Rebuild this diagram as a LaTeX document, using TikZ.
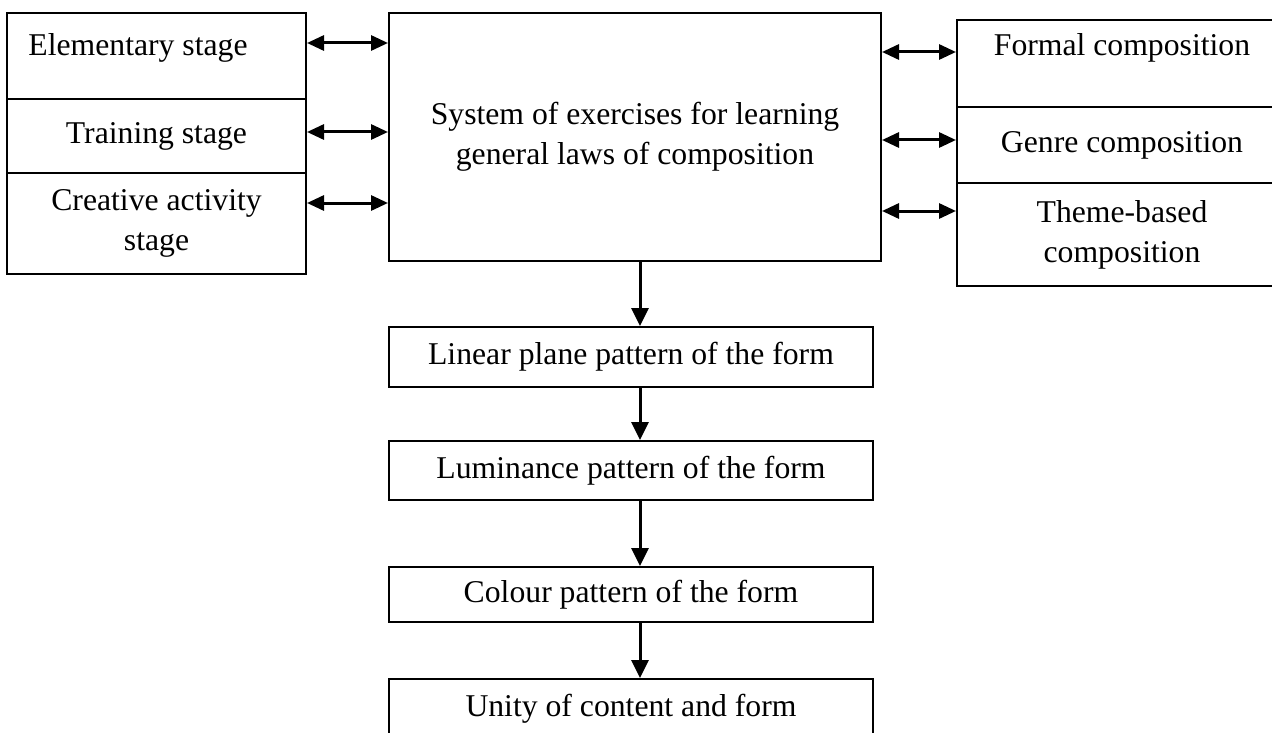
\documentclass[tikz,border=0pt]{standalone}
\usepackage{fontspec}
\setmainfont{Liberation Serif}
\usetikzlibrary{arrows.meta}
\tikzset{
    every node/.style={font=\fontsize{31.7}{40}\selectfont},
    stagebox/.style={draw, line width=2pt, align=center, inner sep=0pt},
    flowbox/.style={draw, line width=2pt, minimum width=484, align=center, inner sep=0pt},
    link/.style={line width=3pt, {Triangle[length=17pt,width=15pt]}-{Triangle[length=17pt,width=15pt]}},
    flow/.style={line width=3pt, -{Triangle[length=18pt,width=17pt]}}
}
\begin{document}
\begin{tikzpicture}[x=1pt, y=1pt]
        \useasboundingbox (0,0) rectangle (1272,-733);
        \clip (0,0) rectangle (1272,-733);
        % Central box
        \node[stagebox, minimum width=492, minimum height=248] (sys) at (635,-137)
            {System of exercises for learning\\general laws of composition};
        % Stages on the left
        \node[stagebox, minimum width=299, minimum height=86] (elem) at (156.5,-56) {};
        \node (elemtext) at (138,-47.5) {Elementary stage};
        \node[stagebox, minimum width=299, minimum height=74] (train) at (156.5,-136) {Training stage};
        \node[stagebox, minimum width=299, minimum height=101] (creat) at (156.5,-223.5) {Creative activity\\stage};
        % Kinds of composition on the right
        \node[stagebox, minimum width=330, minimum height=87] (formal) at (1122,-63.5) {};
        \node (formaltext) at (1122,-47.5) {Formal composition};
        \node[stagebox, minimum width=330, minimum height=76] (genre) at (1122,-145) {Genre composition};
        \node[stagebox, minimum width=330, minimum height=103] (theme) at (1122,-234.5) {Theme-based\\composition};
        % Chain of patterns
        \node[flowbox, minimum height=60] (lin) at (631,-357) {Linear plane pattern of the form};
        \node[flowbox, minimum height=59] (lum) at (631,-470.5) {Luminance pattern of the form};
        \node[flowbox, minimum height=55] (col) at (631,-594.5) {Colour pattern of the form};
        \node[flowbox, minimum height=60] (unity) at (631,-709) {Unity of content and form};
        % Two-way arrows
        \foreach \n/\s in {elem/13, train/4, creat/20.5}
            \draw[link] ([yshift=\s]\n.east) -- ([yshift=\s]\n.east -| sys.west);
        \foreach \n/\s in {formal/11.5, genre/5, theme/23.5}
            \draw[link] ([yshift=\s]\n.west -| sys.east) -- ([yshift=\s]\n.west);
        % Downward arrows
        \draw[flow] ([xshift=5]sys.south) -- ([xshift=9]lin.north);
        \draw[flow] ([xshift=9]lin.south) -- ([xshift=9]lum.north);
        \draw[flow] ([xshift=9]lum.south) -- ([xshift=9]col.north);
        \draw[flow] ([xshift=9]col.south) -- ([xshift=9]unity.north);
    \end{tikzpicture}
\end{document}
